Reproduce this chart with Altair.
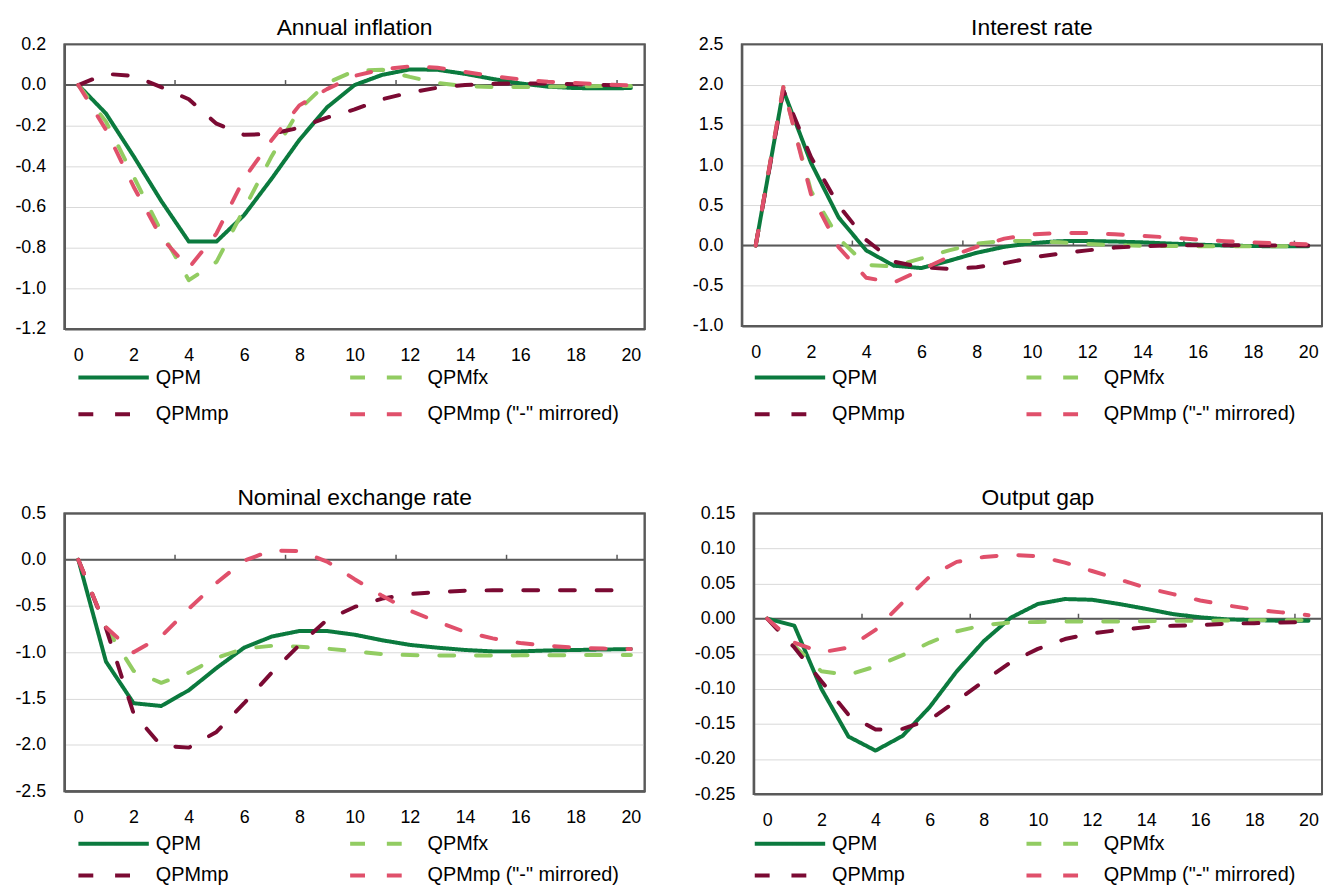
import altair as alt
import pandas as pd

FONT = "Liberation Sans"

periods = [0, 1, 2, 3, 4, 5, 6, 7, 8, 9, 10, 11, 12, 13, 14, 15, 16, 17, 18, 19, 20]
series_names = ["QPM", "QPMfx", "QPMmp", 'QPMmp ("-" mirrored)']
# legend is filled column by column: this order gives rows "QPM | QPMfx" and "QPMmp | mirrored"
legend_order = ["QPM", "QPMmp", "QPMfx", 'QPMmp ("-" mirrored)']
series_colors = {"QPM": "#0b7a3e", "QPMfx": "#92cc62", "QPMmp": "#7b0a33",
                 'QPMmp ("-" mirrored)': "#e0506b"}
series_dashes = {"QPM": [1, 0], "QPMfx": [15, 22], "QPMmp": [15, 22],
                 'QPMmp ("-" mirrored)': [15, 22]}
x_label_values = [0, 2, 4, 6, 8, 10, 12, 14, 16, 18, 20]
x_extent = [-0.5, 20.5]
zero_ticks = [3.5, 7.5, 11.5, 15.5, 19.5]

# Annual inflation
infl_qpm = [0.0, -0.14, -0.35, -0.57, -0.77, -0.77, -0.64, -0.46, -0.27, -0.11, 0.0,
            0.05, 0.077, 0.075, 0.055, 0.03, 0.008, -0.008, -0.015, -0.016, -0.015]
infl_fx = [0.0, -0.18, -0.45, -0.72, -0.96, -0.87, -0.61, -0.35, -0.12, 0.01, 0.07,
           0.075, 0.04, 0.01, -0.005, -0.01, -0.01, -0.008, -0.006, -0.005, -0.005]
infl_mp = [0.0, 0.055, 0.045, -0.01, -0.07, -0.19, -0.245, -0.24, -0.21, -0.16, -0.12,
           -0.07, -0.037, -0.013, 0.0, 0.006, 0.008, 0.007, 0.004, 0.0, -0.002]
infl_mpm = [0.0, -0.22, -0.5, -0.75, -0.9, -0.73, -0.46, -0.27, -0.1, -0.02, 0.045,
            0.077, 0.092, 0.085, 0.064, 0.044, 0.028, 0.016, 0.01, 0.003, -0.002]

# Interest rate
ir_qpm = [0.0, 1.93, 1.03, 0.35, -0.06, -0.25, -0.28, -0.19, -0.09, -0.016, 0.03,
          0.055, 0.057, 0.05, 0.04, 0.025, 0.012, 0.0, -0.006, -0.01, -0.01]
ir_fx = [0.0, 1.97, 0.68, 0.09, -0.24, -0.26, -0.16, -0.06, 0.025, 0.057, 0.057,
         0.04, 0.02, 0.005, -0.003, -0.006, -0.008, -0.008, -0.008, -0.008, -0.008]
ir_mp = [0.0, 1.93, 1.1, 0.5, 0.07, -0.2, -0.27, -0.29, -0.27, -0.22, -0.15,
         -0.1, -0.06, -0.025, -0.008, 0.004, 0.005, 0.004, 0.002, 0.0, 0.0]
ir_mpm = [0.0, 1.97, 0.64, -0.02, -0.4, -0.46, -0.3, -0.14, -0.016, 0.086, 0.14,
          0.155, 0.155, 0.14, 0.12, 0.1, 0.075, 0.055, 0.04, 0.025, 0.015]

# Nominal exchange rate
er_qpm = [0.0, -1.1, -1.55, -1.58, -1.41, -1.17, -0.95, -0.83, -0.77, -0.77, -0.81,
          -0.87, -0.92, -0.95, -0.975, -0.99, -0.99, -0.98, -0.975, -0.97, -0.965]
er_fx = [0.0, -0.73, -1.2, -1.33, -1.22, -1.06, -0.96, -0.93, -0.94, -0.96, -0.99,
         -1.02, -1.03, -1.035, -1.035, -1.035, -1.033, -1.032, -1.03, -1.03, -1.03]
er_mp = [0.0, -0.74, -1.66, -2.01, -2.03, -1.86, -1.55, -1.22, -0.92, -0.65, -0.51,
         -0.42, -0.37, -0.35, -0.335, -0.33, -0.33, -0.33, -0.33, -0.33, -0.33]
er_mpm = [0.0, -0.73, -1.0, -0.83, -0.53, -0.25, -0.01, 0.1, 0.095, -0.02, -0.21,
          -0.39, -0.55, -0.67, -0.78, -0.85, -0.9, -0.93, -0.95, -0.96, -0.965]

# Output gap
og_qpm = [0.0, -0.01, -0.1, -0.168, -0.188, -0.167, -0.126, -0.075, -0.032, 0.0015, 0.021,
          0.028, 0.027, 0.021, 0.014, 0.0065, 0.002, -0.001, -0.002, -0.003, -0.003]
og_fx = [0.0, -0.039, -0.075, -0.08, -0.068, -0.052, -0.034, -0.018, -0.009, -0.0055, -0.0046,
         -0.004, -0.004, -0.004, -0.0035, -0.003, -0.003, -0.0025, -0.002, -0.002, -0.002]
og_mp = [0.0, -0.041, -0.089, -0.137, -0.158, -0.157, -0.144, -0.117, -0.089, -0.062, -0.043,
         -0.029, -0.021, -0.016, -0.012, -0.01, -0.009, -0.007, -0.0064, -0.0055, -0.0046]
og_mpm = [0.0, -0.034, -0.048, -0.041, -0.016, 0.023, 0.06, 0.081, 0.088, 0.091, 0.089,
          0.08, 0.068, 0.056, 0.044, 0.035, 0.026, 0.019, 0.013, 0.009, 0.005]

infl_ticks = [-1.2, -1.0, -0.8, -0.6, -0.4, -0.2, 0.0, 0.2]
ir_ticks = [-1.0, -0.5, 0.0, 0.5, 1.0, 1.5, 2.0, 2.5]
er_ticks = [-2.5, -2.0, -1.5, -1.0, -0.5, 0.0, 0.5]
og_ticks = [-0.25, -0.2, -0.15, -0.1, -0.05, 0.0, 0.05, 0.1, 0.15]

BORDER = "#595959"


def make_df(series_lists):
    rows = []
    for name, vals in zip(series_names, series_lists):
        for p, v in zip(periods, vals):
            rows.append({"period": p, "value": v, "series": name})
    return pd.DataFrame(rows)


def panel(title, series_lists, yticks, decimals, width, height, legend_x, legend_y, row_pad):
    df = make_df(series_lists)
    fmt = "." + str(decimals) + "f"
    label_expr = ("datum.value < -0.000001 ? '-' + format(-datum.value, '%s') : format(abs(datum.value), '%s')"
                  % (fmt, fmt))
    xscale = alt.Scale(domain=x_extent, nice=False, zero=False)
    yscale = alt.Scale(domain=[yticks[0], yticks[-1]], nice=False, zero=False)
    x_axis = alt.Axis(values=x_label_values, format="d", grid=False, ticks=False, domain=True,
                      domainColor=BORDER, domainWidth=2,
                      labelPadding=18, labelFontSize=18, labelFont=FONT, labelColor="#000000",
                      title=None, labelFlush=False, labelOverlap=False, tickCount=30)
    y_axis = alt.Axis(values=yticks, labelExpr=label_expr, grid=True, gridColor="#d9d9d9",
                      gridWidth=1, ticks=False, domain=True, domainColor=BORDER, domainWidth=2,
                      labelPadding=19, labelFontSize=18,
                      labelFont=FONT, labelColor="#000000", title=None, labelFlush=False,
                      labelOverlap=False, tickCount=30)
    legend = alt.Legend(title=None, orient="none", legendX=legend_x, legendY=legend_y,
                        columns=2, symbolType="stroke", symbolSize=5041, symbolStrokeWidth=4,
                        labelFontSize=20, labelFont=FONT, labelColor="#000000", labelOffset=5,
                        columnPadding=120, rowPadding=row_pad, clipHeight=20, labelLimit=400,
                        padding=0)

    frame_df = pd.DataFrame({"x0": [x_extent[0]], "x1": [x_extent[1]],
                             "y0": [yticks[0]], "y1": [yticks[-1]]})
    frame = alt.Chart(frame_df).mark_rect(fill="#ffffff", fillOpacity=0, stroke=BORDER,
                                          strokeOpacity=1, strokeWidth=2).encode(
        x=alt.X("x0:Q", scale=xscale, axis=x_axis), x2="x1:Q",
        y=alt.Y("y0:Q", scale=yscale, axis=y_axis), y2="y1:Q")
    lines = alt.Chart(df).mark_line(strokeWidth=4, strokeCap="round", strokeJoin="round").encode(
        x=alt.X("period:Q", scale=xscale, axis=x_axis),
        y=alt.Y("value:Q", scale=yscale, axis=y_axis),
        color=alt.Color("series:N",
                        scale=alt.Scale(domain=legend_order,
                                        range=[series_colors[s] for s in legend_order]),
                        legend=legend),
        strokeDash=alt.StrokeDash("series:N",
                                  scale=alt.Scale(domain=legend_order,
                                                  range=[series_dashes[s] for s in legend_order]),
                                  legend=legend),
    )
    zero_line = alt.Chart(pd.DataFrame({"v": [0]})).mark_rule(color=BORDER, strokeWidth=2).encode(
        y=alt.Y("v:Q", scale=yscale, axis=y_axis))
    tick_marks = alt.Chart(pd.DataFrame({"t": zero_ticks})).mark_rule(
        color=BORDER, strokeWidth=1.5, y2Offset=-5).encode(
        x=alt.X("t:Q", scale=xscale, axis=x_axis), y=alt.datum(0), y2=alt.datum(0))
    return alt.layer(frame, zero_line, tick_marks, lines).properties(
        width=width, height=height,
        title=alt.TitleParams(title, fontSize=23, font=FONT, fontWeight="normal", color="#000000",
                              anchor="middle", offset=-5),
    ).resolve_scale(color="independent", strokeDash="independent").resolve_legend(
        color="independent", strokeDash="independent")


p1 = panel("Annual inflation", [infl_qpm, infl_fx, infl_mp, infl_mpm], infl_ticks, 1, 585, 287, 12, 326, 17)
p2 = panel("Interest rate", [ir_qpm, ir_fx, ir_mp, ir_mpm], ir_ticks, 1, 585, 284, 11, 326, 17)
p3 = panel("Nominal exchange rate", [er_qpm, er_fx, er_mp, er_mpm], er_ticks, 1, 585, 280, 12, 323, 12)
p4 = panel("Output gap", [og_qpm, og_fx, og_mp, og_mpm], og_ticks, 2, 573, 283, -1, 323, 12)

row1 = alt.hconcat(p1, p2, spacing=44)
row2 = alt.hconcat(p3, p4, spacing=46)
chart = alt.vconcat(row1, row2, spacing=61).properties(
    padding={"left": 5, "top": 5, "right": 0, "bottom": 0}
).resolve_legend(color="independent", strokeDash="independent").resolve_scale(
    color="independent", strokeDash="independent"
).configure_view(stroke=BORDER, strokeWidth=2)

chart.save("out.html", embed_options={"renderer": "svg", "actions": False})
